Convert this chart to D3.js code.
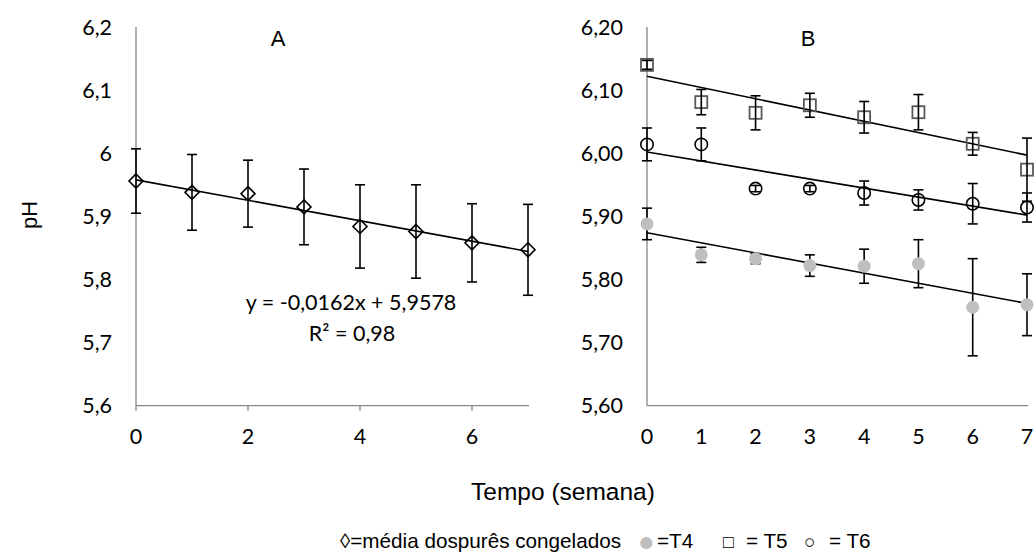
<!DOCTYPE html>
<html>
<head>
<meta charset="utf-8">
<script src="https://cdn.jsdelivr.net/npm/d3@7"></script>
<style>
  body { margin: 0; background: #fff; }
  svg text { fill: #000; }
  .tick-label { font-family: Lato, "Open Sans", sans-serif; font-size: 21.5px; }
  .plain { font-family: "Liberation Sans", Arial, sans-serif; font-size: 22px; }
</style>
</head>
<body>
<svg id="chart" width="1035" height="559"></svg>
<script>
// weeks of storage
const weeks = [0, 1, 2, 3, 4, 5, 6, 7];

// panel A: mean of the frozen purees
const meanPH  = [5.956, 5.938, 5.936, 5.915, 5.884, 5.876, 5.858, 5.847];
const meanErr = [0.051, 0.060, 0.053, 0.060, 0.066, 0.074, 0.062, 0.072];
const trendA  = { slope: -0.0162, intercept: 5.9578 };

// panel B: treatments
const t4PH  = [5.888, 5.839, 5.833, 5.822, 5.821, 5.825, 5.756, 5.760];
const t4Err = [0.025, 0.012, 0.008, 0.017, 0.027, 0.038, 0.077, 0.049];
const t5PH  = [6.140, 6.081, 6.064, 6.076, 6.057, 6.065, 6.015, 5.974];
const t5Err = [0.007, 0.020, 0.027, 0.019, 0.025, 0.028, 0.018, 0.050];
const t6PH  = [6.014, 6.014, 5.944, 5.944, 5.937, 5.926, 5.920, 5.914];
const t6Err = [0.026, 0.026, 0.005, 0.005, 0.019, 0.016, 0.032, 0.023];
// trend lines (value at week 0, value at week 7)
const trendT4 = [5.874, 5.762];
const trendT5 = [6.122, 5.997];
const trendT6 = [6.002, 5.902];

const yTicks = [5.6, 5.7, 5.8, 5.9, 6.0, 6.1, 6.2];
const xTicksA = [0, 2, 4, 6];

const svg = d3.select('#chart');
const axisColor = '#868686';

function makePanel(cfg) {
  const x = d3.scaleLinear().domain([0, 7]).range([cfg.left, cfg.right]);
  const y = d3.scaleLinear().domain([5.6, 6.2]).range([405.7, 27]);
  const g = svg.append('g');

  // y axis
  g.append('line')
      .attr('x1', cfg.left).attr('x2', cfg.left)
      .attr('y1', y(6.2)).attr('y2', y(5.6))
      .attr('stroke', axisColor).attr('stroke-width', 1.3);
  g.selectAll('.ylab')
    .data(yTicks)
    .join('text')
      .attr('class', 'tick-label')
      .attr('x', cfg.left - 24)
      .attr('y', d => y(d))
      .attr('dy', '0.35em')
      .attr('text-anchor', 'end')
      .text(cfg.yFormat);

  // x axis
  g.append('line')
      .attr('x1', cfg.left).attr('x2', cfg.right + 1)
      .attr('y1', y(5.6)).attr('y2', y(5.6))
      .attr('stroke', axisColor).attr('stroke-width', 1.3);
  if (cfg.xTickMarks) {
    g.selectAll('.xtick')
      .data(cfg.xTicks)
      .join('line')
        .attr('x1', d => x(d)).attr('x2', d => x(d))
        .attr('y1', y(5.6)).attr('y2', y(5.6) + 5)
        .attr('stroke', axisColor).attr('stroke-width', 1.3);
  }
  g.selectAll('.xlab')
    .data(cfg.xTicks)
    .join('text')
      .attr('class', 'tick-label')
      .attr('x', d => x(d))
      .attr('y', 444)
      .attr('text-anchor', 'middle')
      .text(d => d);

  // panel letter
  g.append('text')
      .attr('class', 'plain')
      .attr('x', cfg.letterX).attr('y', 46)
      .attr('text-anchor', 'middle')
      .text(cfg.letter);

  return { g, x, y };
}

function drawErrors(p, values, errs) {
  const cap = 5;
  const rows = weeks.map((w, i) => ({ w, v: values[i], e: errs[i] }));
  const eg = p.g.append('g').attr('stroke', '#000').attr('stroke-width', 1.6);
  eg.selectAll('.ev').data(rows).join('line')
      .attr('x1', d => p.x(d.w)).attr('x2', d => p.x(d.w))
      .attr('y1', d => p.y(d.v + d.e)).attr('y2', d => p.y(d.v - d.e));
  eg.selectAll('.et').data(rows).join('line')
      .attr('x1', d => p.x(d.w) - cap).attr('x2', d => p.x(d.w) + cap)
      .attr('y1', d => p.y(d.v + d.e)).attr('y2', d => p.y(d.v + d.e));
  eg.selectAll('.eb').data(rows).join('line')
      .attr('x1', d => p.x(d.w) - cap).attr('x2', d => p.x(d.w) + cap)
      .attr('y1', d => p.y(d.v - d.e)).attr('y2', d => p.y(d.v - d.e));
}

function drawTrend(p, a, b) {
  p.g.append('line')
      .attr('x1', p.x(0)).attr('y1', p.y(a))
      .attr('x2', p.x(7)).attr('y2', p.y(b))
      .attr('stroke', '#000').attr('stroke-width', 1.6);
}

// ---- panel A
const pa = makePanel({
  left: 136, right: 528, letter: 'A', letterX: 278,
  xTicks: xTicksA, xTickMarks: true,
  yFormat: d => d3.format('.1f')(d).replace('.0', '').replace('.', ',')
});
drawTrend(pa, trendA.intercept, trendA.intercept + trendA.slope * 7);
drawErrors(pa, meanPH, meanErr);
pa.g.selectAll('.dia')
  .data(weeks)
  .join('path')
    .attr('d', 'M0,-7L7,0L0,7L-7,0Z')
    .attr('transform', (d, i) => `translate(${pa.x(d)},${pa.y(meanPH[i])})`)
    .attr('fill', 'none')
    .attr('stroke', '#000')
    .attr('stroke-width', 1.6);

pa.g.append('text')
    .attr('class', 'tick-label')
    .attr('x', 351).attr('y', 310)
    .attr('text-anchor', 'middle')
    .text('y = -0,0162x + 5,9578');
pa.g.append('text')
    .attr('class', 'tick-label')
    .attr('x', 352).attr('y', 341)
    .attr('text-anchor', 'middle')
    .text('R² = 0,98');

// ---- panel B
const pb = makePanel({
  left: 647, right: 1027, letter: 'B', letterX: 808,
  xTicks: weeks, xTickMarks: false,
  yFormat: d => d3.format('.2f')(d).replace('.', ',')
});
drawTrend(pb, trendT4[0], trendT4[1]);
drawTrend(pb, trendT5[0], trendT5[1]);
drawTrend(pb, trendT6[0], trendT6[1]);

drawErrors(pb, t4PH, t4Err);
pb.g.selectAll('.t4')
  .data(weeks)
  .join('circle')
    .attr('cx', d => pb.x(d))
    .attr('cy', (d, i) => pb.y(t4PH[i]))
    .attr('r', 6.5)
    .attr('fill', '#bfbfbf');

pb.g.selectAll('.t5')
  .data(weeks)
  .join('rect')
    .attr('x', d => pb.x(d) - 6)
    .attr('y', (d, i) => pb.y(t5PH[i]) - 6)
    .attr('width', 12).attr('height', 12)
    .attr('fill', 'none')
    .attr('stroke', '#595959')
    .attr('stroke-width', 1.8);
drawErrors(pb, t5PH, t5Err);

pb.g.selectAll('.t6')
  .data(weeks)
  .join('circle')
    .attr('cx', d => pb.x(d))
    .attr('cy', (d, i) => pb.y(t6PH[i]))
    .attr('r', 6.2)
    .attr('fill', 'none')
    .attr('stroke', '#000')
    .attr('stroke-width', 1.6);
drawErrors(pb, t6PH, t6Err);

// ---- shared titles
svg.append('text')
    .attr('class', 'plain')
    .attr('transform', 'translate(37,215) rotate(-90)')
    .attr('text-anchor', 'middle')
    .text('pH');

svg.append('text')
    .attr('class', 'plain')
    .style('font-size', '24.5px')
    .attr('x', 563).attr('y', 500)
    .attr('text-anchor', 'middle')
    .text('Tempo (semana)');

// legend pieces: [text, x, y, colour, size]
const legendItems = [
  ['◊=média dospurês congelados', 340, 548, '#000', 20.7],
  ['●', 638, 551, '#bfbfbf', 28],
  ['=T4', 657, 548, '#000', 20.7],
  ['□', 723, 548, '#000', 18],
  ['= T5', 746, 548, '#000', 20.7],
  ['○', 804, 548, '#000', 19],
  ['= T6', 829, 548, '#000', 20.7]
];
svg.append('g').selectAll('text')
  .data(legendItems)
  .join('text')
    .attr('class', 'plain')
    .attr('x', d => d[1])
    .attr('y', d => d[2])
    .style('fill', d => d[3])
    .style('font-size', d => d[4] + 'px')
    .text(d => d[0]);
</script>
</body>
</html>
